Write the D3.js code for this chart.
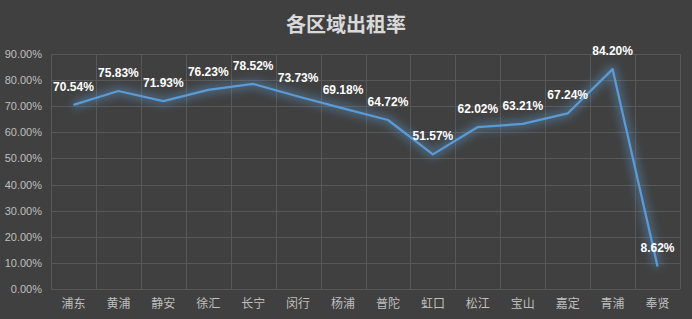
<!DOCTYPE html>
<html>
<head>
<meta charset="utf-8">
<script src="https://cdn.jsdelivr.net/npm/d3@7"></script>
<style>
  body { margin: 0; background: #404040; }
  svg { display: block; }
  .grid line { stroke: #585858; stroke-width: 1; }
  .axis text { fill: #bfbfbf; }
</style>
</head>
<body>
<script>
// Chart data
var districts = ['浦东', '黄浦', '静安', '徐汇', '长宁', '闵行', '杨浦', '普陀', '虹口', '松江', '宝山', '嘉定', '青浦', '奉贤'];
var rates = [0.7054, 0.7583, 0.7193, 0.7623, 0.7852, 0.7373, 0.6918, 0.6472, 0.5157, 0.6202, 0.6321, 0.6724, 0.8420, 0.0862];
var y_ticks = [0, 0.1, 0.2, 0.3, 0.4, 0.5, 0.6, 0.7, 0.8, 0.9];

var svg_width = 692;
var svg_height = 319;

// plot area
var plot_left = 51;
var plot_right = 680;
var plot_top = 54;
var plot_bottom = 289;

var svg = d3.select('body').append('svg')
  .attr('width', svg_width)
  .attr('height', svg_height);

svg.append('rect')
  .attr('width', svg_width)
  .attr('height', svg_height)
  .attr('fill', '#404040');

// glow filter for the line
var defs = svg.append('defs');
var glow = defs.append('filter')
  .attr('id', 'glow')
  .attr('x', '-20%').attr('y', '-20%')
  .attr('width', '140%').attr('height', '140%');
glow.append('feGaussianBlur')
  .attr('in', 'SourceGraphic')
  .attr('stdDeviation', 4)
  .attr('result', 'blur');

var x = d3.scaleBand()
  .domain(districts)
  .range([plot_left, plot_right])
  .paddingInner(0)
  .paddingOuter(0);

var y = d3.scaleLinear()
  .domain([0, 0.9])
  .range([plot_bottom, plot_top]);

var cx = function(d, i) { return x(districts[i]) + x.bandwidth() / 2; };

// horizontal gridlines
svg.append('g')
  .attr('class', 'grid')
  .selectAll('line.h')
  .data(y_ticks)
  .enter()
  .append('line')
  .attr('x1', plot_left)
  .attr('x2', plot_right)
  .attr('y1', function(d) { return Math.round(y(d)) + 0.5; })
  .attr('y2', function(d) { return Math.round(y(d)) + 0.5; });

// vertical gridlines at category borders
var borders = districts.map(function(d) { return x(d); }).concat([plot_right]);
svg.append('g')
  .attr('class', 'grid')
  .selectAll('line.v')
  .data(borders)
  .enter()
  .append('line')
  .attr('x1', function(d) { return Math.round(d) + 0.5; })
  .attr('x2', function(d) { return Math.round(d) + 0.5; })
  .attr('y1', plot_top)
  .attr('y2', plot_bottom);

// y axis labels
var yAxis = d3.axisLeft(y)
  .tickValues(y_ticks)
  .tickFormat(d3.format('.2%'))
  .tickSize(0)
  .tickPadding(9);
var yg = svg.append('g')
  .attr('class', 'axis')
  .attr('transform', 'translate(' + plot_left + ',0)')
  .call(yAxis);
yg.select('.domain').remove();
yg.selectAll('text')
  .attr('font-family', '"Liberation Sans", Arial, sans-serif')
  .attr('font-size', 11);

// x axis labels
var xAxis = d3.axisBottom(x).tickSize(0).tickPadding(10);
var xg = svg.append('g')
  .attr('class', 'axis')
  .attr('transform', 'translate(0,' + plot_bottom + ')')
  .call(xAxis);
xg.select('.domain').remove();
xg.selectAll('text')
  .attr('font-family', '"Noto Sans CJK SC", sans-serif')
  .attr('font-size', 12);

// line with glow
var line = d3.line()
  .x(cx)
  .y(function(d) { return y(d); });

svg.append('path')
  .datum(rates)
  .attr('d', line)
  .attr('fill', 'none')
  .attr('stroke', '#5b9bd5')
  .attr('stroke-width', 8)
  .attr('stroke-opacity', 0.45)
  .attr('stroke-linejoin', 'round')
  .attr('filter', 'url(#glow)');

svg.append('path')
  .datum(rates)
  .attr('d', line)
  .attr('fill', 'none')
  .attr('stroke', '#5b9bd5')
  .attr('stroke-width', 2.25)
  .attr('stroke-linejoin', 'round');

// value labels
svg.selectAll('text.value-label')
  .data(rates)
  .enter()
  .append('text')
  .attr('class', 'value-label')
  .attr('x', cx)
  .attr('y', function(d) { return y(d) - 14; })
  .attr('text-anchor', 'middle')
  .attr('font-family', '"Liberation Sans", Arial, sans-serif')
  .attr('font-weight', 'bold')
  .attr('font-size', 12)
  .attr('fill', '#ffffff')
  .text(function(d) { return d3.format('.2%')(d); });

// title
svg.append('text')
  .attr('x', 346)
  .attr('y', 32)
  .attr('text-anchor', 'middle')
  .attr('font-family', '"Noto Sans CJK SC", sans-serif')
  .attr('font-weight', 'bold')
  .attr('font-size', 20)
  .attr('fill', '#d9d9d9')
  .text('各区域出租率');
</script>
</body>
</html>
